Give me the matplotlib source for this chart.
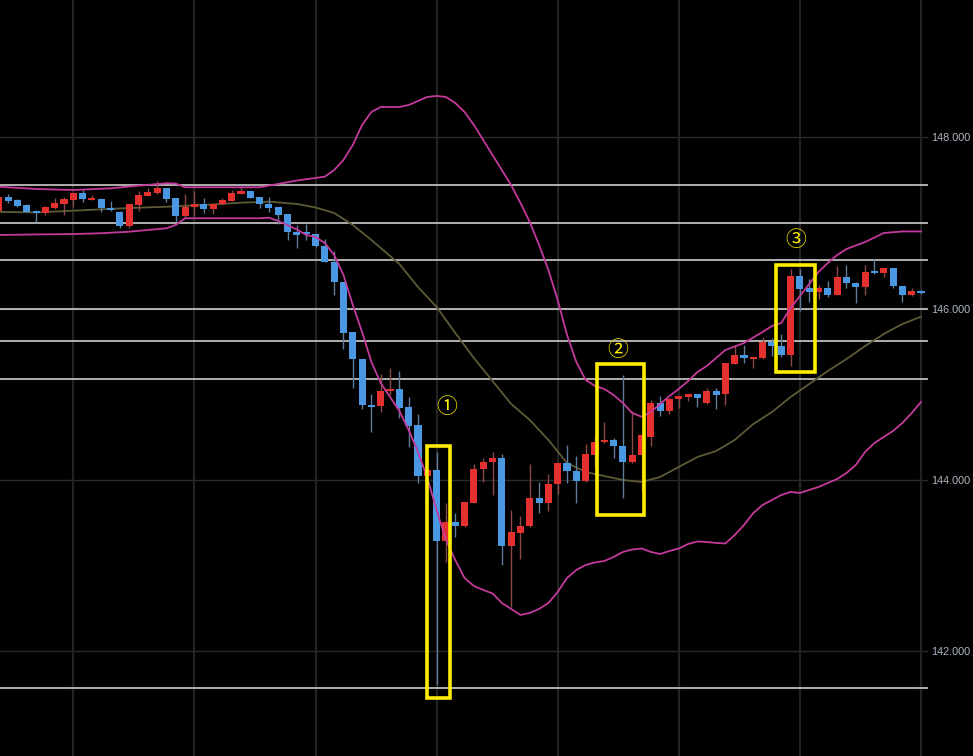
import matplotlib
matplotlib.use("Agg")
import matplotlib.pyplot as plt
from matplotlib.patches import Rectangle

# ---------------- data ----------------
opens = [147.14, 147.305, 147.273, 147.215, 147.145, 147.121, 147.173, 147.223, 147.27, 147.355,
         147.273, 147.285, 147.164, 147.133, 146.969, 147.211, 147.32, 147.351, 147.41, 147.289,
         147.083, 147.191, 147.223, 147.168, 147.219, 147.258, 147.343, 147.378, 147.305, 147.226,
         147.188, 147.106, 146.892, 146.885, 146.869, 146.736, 146.549, 146.308, 145.725, 145.41,
         144.872, 144.861, 145.035, 145.058, 144.846, 144.641, 144.045, 144.11, 143.29, 143.512,
         143.465, 143.733, 144.124, 144.205, 144.252, 143.231, 143.383, 143.461, 143.792, 143.733,
         143.948, 144.194, 144.106, 143.987, 144.291, 144.439, 144.466, 144.393, 144.205, 144.285,
         144.505, 144.895, 144.808, 144.94, 144.972, 145.0, 144.895, 145.042, 145.0, 145.354,
         145.459, 145.412, 145.42, 145.614, 145.568, 145.459, 146.385, 146.238, 146.191, 146.245,
         146.16, 146.374, 146.303, 146.257, 146.432, 146.42, 146.472, 146.268, 146.156, 146.21]
highs = [147.32, 147.336, 147.28, 147.22, 147.15, 147.195, 147.289, 147.305, 147.355, 147.383,
         147.328, 147.29, 147.258, 147.14, 147.225, 147.378, 147.406, 147.495, 147.415, 147.29,
         147.336, 147.375, 147.289, 147.225, 147.296, 147.386, 147.421, 147.385, 147.31, 147.305,
         147.19, 147.11, 146.978, 146.985, 146.875, 146.81, 146.674, 146.31, 145.73, 145.415,
         145.0, 145.24, 145.304, 145.272, 144.965, 144.766, 144.12, 144.322, 143.733, 143.61,
         143.745, 144.182, 144.252, 144.329, 144.299, 143.648, 143.575, 144.186, 143.979, 144.069,
         144.2, 144.407, 144.279, 144.419, 144.513, 144.68, 144.486, 145.225, 144.805, 144.525,
         144.933, 144.983, 144.96, 144.985, 145.005, 145.005, 145.07, 145.07, 145.37, 145.576,
         145.576, 145.44, 145.673, 145.654, 145.704, 146.46, 146.46, 146.343, 146.277, 146.327,
         146.499, 146.51, 146.31, 146.51, 146.577, 146.475, 146.475, 146.27, 146.245, 146.215]
lows = [147.13, 147.24, 147.188, 147.125, 147.009, 147.094, 147.17, 147.094, 147.191, 147.245,
        147.27, 147.133, 147.141, 146.943, 146.943, 147.141, 147.315, 147.345, 147.25, 147.01,
        147.055, 147.086, 147.121, 147.103, 147.215, 147.255, 147.34, 147.29, 147.173, 147.133,
        146.986, 146.802, 146.705, 146.8, 146.725, 146.54, 146.16, 145.529, 145.07, 144.828,
        144.556, 144.797, 144.992, 144.726, 144.388, 143.96, 144.04, 141.604, 143.044, 143.336,
        143.446, 143.73, 143.979, 143.823, 143.006, 142.519, 143.072, 143.455, 143.61, 143.637,
        143.835, 143.96, 143.733, 143.98, 144.154, 144.435, 144.259, 143.785, 144.2, 143.862,
        144.396, 144.746, 144.77, 144.836, 144.922, 144.855, 144.89, 144.825, 144.875, 145.35,
        145.369, 145.311, 145.415, 145.447, 145.432, 145.33, 145.976, 146.082, 146.11, 146.133,
        146.155, 146.238, 146.063, 146.16, 146.41, 146.374, 146.245, 146.082, 146.15, 146.17]
closes = [147.31, 147.258, 147.203, 147.133, 147.121, 147.188, 147.235, 147.281, 147.351, 147.278,
          147.285, 147.173, 147.153, 146.969, 147.219, 147.328, 147.36, 147.406, 147.281, 147.083,
          147.191, 147.219, 147.168, 147.219, 147.266, 147.351, 147.375, 147.296, 147.223, 147.18,
          147.094, 146.89, 146.861, 146.87, 146.732, 146.549, 146.308, 145.72, 145.41, 144.87,
          144.855, 145.038, 145.053, 144.84, 144.635, 144.049, 144.11, 143.29, 143.512, 143.465,
          143.738, 144.127, 144.212, 144.252, 143.231, 143.388, 143.461, 143.792, 143.733, 143.948,
          144.194, 144.098, 143.99, 144.3, 144.446, 144.466, 144.39, 144.205, 144.291, 144.519,
          144.895, 144.808, 144.945, 144.98, 145.0, 144.953, 145.038, 144.992, 145.362, 145.459,
          145.42, 145.432, 145.614, 145.56, 145.459, 146.385, 146.23, 146.191, 146.245, 146.16,
          146.374, 146.296, 146.257, 146.432, 146.417, 146.472, 146.268, 146.156, 146.21, 146.187]

# Bollinger middle band (candle index, price)
mid_idx = [0, 4, 14, 18, 22, 26, 29, 32, 34, 36, 38, 40, 43, 45, 47, 49, 51, 53, 55, 57, 59, 61,
           63, 65, 67, 69, 71, 73, 75, 77, 79, 81, 83, 85, 87, 89, 91, 93, 95, 97, 99]
mid_val = [147.13, 147.124, 147.176, 147.191, 147.211, 147.238, 147.25, 147.223, 147.182, 147.118,
           146.978, 146.802, 146.522, 146.253, 146.02, 145.716, 145.424, 145.155, 144.887, 144.70,
           144.466, 144.197, 144.092, 144.045, 143.999, 143.975, 144.034, 144.151, 144.267, 144.337,
           144.466, 144.653, 144.793, 144.968, 145.12, 145.272, 145.412, 145.564, 145.704, 145.821,
           145.906]

# Bollinger upper band
up_idx = [0, 4, 8, 12, 15, 18, 19, 20, 24, 28, 30, 32, 34, 35, 36, 37, 38, 39, 40, 41, 43, 44,
          45, 46, 47, 48, 49, 50, 51, 52, 53, 54, 55, 56, 57, 58, 59, 60, 61, 62, 63, 64, 65, 66,
          67, 68, 69, 70, 71, 72, 73, 74, 75, 76, 78, 80, 82, 83, 84, 85, 86, 87, 88, 89, 90, 91,
          93, 95, 97, 99]
up_val = [147.425, 147.398, 147.386, 147.406, 147.437, 147.465, 147.462, 147.418, 147.418, 147.418,
          147.457, 147.497, 147.527, 147.542, 147.62, 147.737, 147.912, 148.146, 148.298, 148.356,
          148.356, 148.379, 148.426, 148.473, 148.485, 148.473, 148.403, 148.298, 148.146, 147.971,
          147.795, 147.62, 147.445, 147.235, 147.013, 146.744, 146.452, 146.101, 145.693, 145.377,
          145.167, 145.097, 145.062, 144.992, 144.898, 144.781, 144.738, 144.793, 144.887, 144.98,
          145.062, 145.155, 145.26, 145.33, 145.517, 145.599, 145.728, 145.798, 145.833, 146.008,
          146.148, 146.288, 146.429, 146.534, 146.627, 146.697, 146.779, 146.884, 146.902, 146.902]

# Bollinger lower band
lo_idx = [0, 4, 8, 11, 14, 18, 19, 20, 24, 28, 29, 30, 32, 33, 34, 35, 36, 37, 38, 39, 40, 41,
          42, 43, 44, 45, 46, 47, 48, 49, 50, 51, 52, 53, 54, 55, 56, 57, 58, 59, 60, 61, 62, 63,
          64, 65, 66, 67, 68, 69, 70, 71, 72, 73, 74, 75, 76, 77, 78, 79, 80, 81, 82, 83, 84, 85,
          86, 87, 88, 89, 90, 91, 92, 93, 94, 95, 96, 97, 98, 99]
lo_val = [146.861, 146.867, 146.872, 146.881, 146.899, 146.939, 146.978, 147.056, 147.056, 147.056,
          147.063, 147.024, 146.925, 146.861, 146.837, 146.767, 146.627, 146.393, 146.043, 145.728,
          145.377, 145.132, 144.968, 144.805, 144.583, 144.326, 144.022, 143.648, 143.298, 143.064,
          142.854, 142.76, 142.714, 142.673, 142.562, 142.492, 142.422, 142.445, 142.492, 142.562,
          142.69, 142.854, 142.947, 143.006, 143.035, 143.052, 143.099, 143.158, 143.187, 143.198,
          143.158, 143.134, 143.169, 143.198, 143.251, 143.28, 143.274, 143.263, 143.257, 143.356,
          143.473, 143.613, 143.707, 143.765, 143.823, 143.859, 143.847, 143.882, 143.917, 143.964,
          144.01, 144.08, 144.174, 144.326, 144.431, 144.501, 144.571, 144.665, 144.781, 144.91]

# Horizontal price levels drawn by the author
levels = [147.45, 147.0, 146.57, 146.0, 145.62, 145.18, 141.57]

# Y-axis ticks
yticks = [142.0, 144.0, 146.0, 148.0]
ytick_labels = ["142.000", "144.000", "146.000", "148.000"]

# Highlight boxes: (label, left idx, right idx, low price, high price, label idx, label price)
boxes = [("①", 45.95, 48.45, 141.45, 144.40, 48.1, 144.85),
         ("②", 64.25, 69.25, 143.59, 145.355, 66.4, 145.52),
         ("③", 83.4, 87.6, 145.26, 146.51, 85.5, 146.80)]

# ---------------- drawing ----------------
plt.rcParams['font.family'] = ['Liberation Sans', 'DejaVu Sans']

W, H = 973, 756
fig = plt.figure(figsize=(W / 100, H / 100), dpi=100, facecolor='black')
ax = fig.add_axes([0, 0, 928 / W, 1])
ax.set_facecolor('black')
for s in ax.spines.values():
    s.set_visible(False)

n = len(opens)
xs = list(range(n))

# grid
for p in yticks:
    ax.axhline(p, color='#2a2a2a', lw=1.0, zorder=0)
for gx in range(8, n, 13):
    ax.axvline(gx, color='#232323', lw=1.6, zorder=0)

# author levels
for lv in levels:
    ax.axhline(lv, color='#bdbdbd', lw=1.3, zorder=1)

# bands
ax.plot(mid_idx, mid_val, color='#5f5a36', lw=1.3, zorder=2)
ax.plot(up_idx, up_val, color='#c43a9c', lw=1.3, zorder=4)
ax.plot(lo_idx, lo_val, color='#c43a9c', lw=1.3, zorder=4)

# candles
up_col, dn_col = '#e4302f', '#4a98e4'
up_wick, dn_wick = '#8a4848', '#5d7d9a'
for i in xs:
    o, h, l, c = opens[i], highs[i], lows[i], closes[i]
    bull = c >= o
    ax.vlines(i, l, h, color=up_wick if bull else dn_wick, lw=1.0, zorder=3)
    bot = min(o, c)
    ht = max(abs(c - o), 0.022)
    ax.bar(i, ht, bottom=bot, width=0.76, color=up_col if bull else dn_col,
           linewidth=0, zorder=3.5)

# highlight boxes and labels
for lab, x0, x1, p0, p1, lx, lp in boxes:
    ax.add_patch(Rectangle((x0, p0), x1 - x0, p1 - p0, fill=False,
                           edgecolor='#ffee00', lw=2.6, zorder=6))
    ax.text(lx, lp, lab, color='#ffee00', fontsize=15, ha='center', va='center',
            family=['Noto Sans CJK JP', 'DejaVu Sans'], zorder=6)

# axes limits
ax.set_xlim(0.13, 99.75)
ax.set_ylim(140.774, 149.606)
ax.set_xticks([])
ax.yaxis.tick_right()
ax.set_yticks(yticks)
ax.set_yticklabels(ytick_labels)
ax.tick_params(axis='y', length=0, pad=2, labelsize=7.8, labelcolor='#aeb6c2')

fig.savefig('out.png', dpi=100, facecolor='black')
